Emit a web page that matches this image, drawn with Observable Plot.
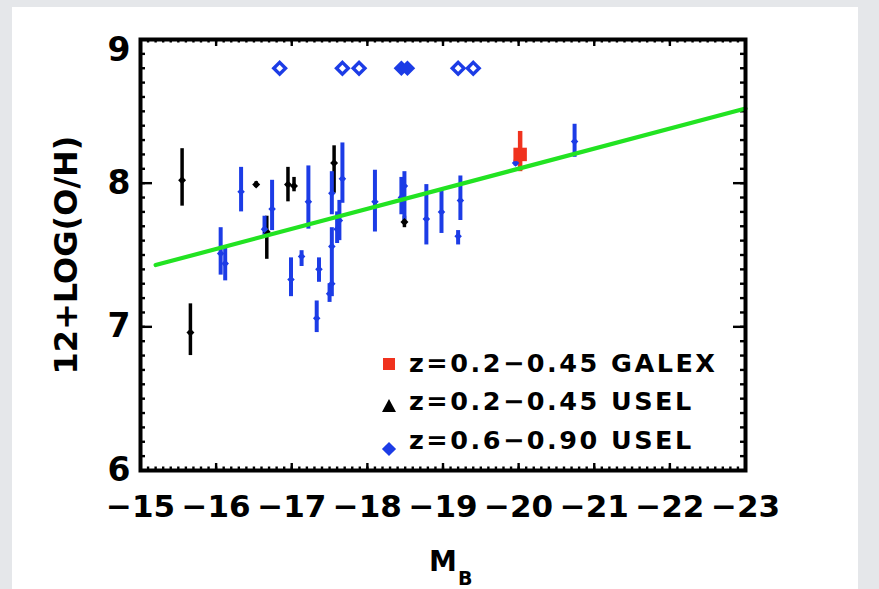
<!DOCTYPE html>
<html>
<head>
<meta charset="utf-8">
<script src="https://cdn.jsdelivr.net/npm/d3@7"></script>
<script src="https://cdn.jsdelivr.net/npm/@observablehq/plot@0.6"></script>
<style>
  html, body { margin: 0; padding: 0; background: #e5e7ea; }
  #wrap { position: relative; width: 879px; height: 589px; overflow: hidden; font-family: "DejaVu Sans", sans-serif; }
  #panel { position: absolute; left: 12px; top: 7px; width: 846px; height: 582px; background: #ffffff; }
  #chart { position: absolute; left: 0; top: 0; }
  .t { position: absolute; white-space: nowrap; font-weight: bold; color: #000; }
  #ytitle { left: 66px; top: 254.5px; font-size: 32px; line-height: 32px; transform: translate(-50%, -50%) rotate(-90deg); }
  #xM { left: 429px; top: 548px; font-size: 28px; line-height: 28px; }
  #xB { left: 458px; top: 569px; font-size: 19px; line-height: 19px; }
  .leg { left: 409px; font-size: 25.5px; line-height: 25px; letter-spacing: 2.5px; }
  .sym { position: absolute; }
</style>
</head>
<body>
<div id="wrap">
  <div id="panel"></div>
  <div id="chart"></div>
  <div class="t" id="ytitle">12+LOG(O/H)</div>
  <div class="t" id="xM">M</div>
  <div class="t" id="xB">B</div>
  <div id="legend"></div>
</div>
<script>
// ---- axis ticks / labels ----
const xTickValues = [-15, -16, -17, -18, -19, -20, -21, -22, -23];
const yTickValues = [6, 7, 8, 9];
const yTitle = "12+LOG(O/H)";
const xTitle = "M";
const xTitleSub = "B";

// ---- z=0.2-0.45 USEL (black) ----
const blackMB = [-15.55, -15.66, -16.53, -16.67, -16.95, -17.03, -17.56, -18.49];
const blackOH = [8.02, 6.96, 7.99, 7.66, 7.99, 7.98, 8.14, 7.73];
const blackLo = [7.84, 6.80, 7.97, 7.47, 7.87, 7.94, 7.93, 7.69];
const blackHi = [8.24, 7.16, 8.01, 7.77, 8.11, 8.04, 8.26, 7.77];

// ---- z=0.6-0.90 USEL (blue) ----
const blueMB = [-16.06, -16.12, -16.33, -16.64, -16.74, -16.99, -17.13, -17.22, -17.33, -17.36,
                -17.50, -17.53, -17.53, -17.53, -17.60, -17.63, -17.67, -18.10, -18.45, -18.49,
                -18.78, -18.98, -19.20, -19.23, -19.96, -20.74];
const blueOH = [7.51, 7.44, 7.94, 7.68, 7.82, 7.33, 7.49, 7.87, 7.06, 7.40,
                7.23, 7.30, 7.56, 7.93, 7.68, 7.74, 8.03, 7.87, 7.90, 7.98,
                7.75, 7.80, 7.63, 7.88, 8.14, 8.29];
const blueLo = [7.36, 7.32, 7.80, 7.63, 7.67, 7.21, 7.42, 7.68, 6.96, 7.31,
                7.17, 7.21, 7.42, 7.78, 7.58, 7.60, 7.86, 7.66, 7.78, 7.74,
                7.57, 7.65, 7.57, 7.74, 8.12, 8.18];
const blueHi = [7.69, 7.55, 8.11, 7.77, 8.02, 7.48, 7.53, 8.12, 7.18, 7.48,
                7.30, 7.42, 7.69, 8.08, 7.80, 7.88, 8.28, 8.09, 8.04, 8.08,
                7.99, 7.95, 7.67, 8.05, 8.16, 8.41];

// ---- blue points plotted at the top (open and overlapping) ----
const topOpenMB = [-16.84, -17.67, -17.89, -19.20, -19.40];
const topFilledMB = [-18.45, -18.53];
const topOH = 8.80;

// ---- z=0.2-0.45 GALEX (red) ----
const redMB = [-20.02];
const redOH = [8.20];
const redLo = [8.08];
const redHi = [8.36];

// ---- fitted relation (endpoints) ----
const fitMB = [-15.2, -23.0];
const fitOH = [7.43, 8.52];

// ---- legend ----
const legendLabels = ["z=0.2\u22120.45 GALEX", "z=0.2\u22120.45 USEL", "z=0.6\u22120.90 USEL"];
const legendColors = ["#f0321e", "#000000", "#1c3ce6"];

const BLUE = "#1c3ce6", RED = "#f0321e", GREEN = "#22e322";

const toRows = (m, v, lo, hi) => m.map((d, i) => ({m: d, v: v[i], lo: lo[i], hi: hi[i]}));
const black = toRows(blackMB, blackOH, blackLo, blackHi);
const blue = toRows(blueMB, blueOH, blueLo, blueHi);
const red = toRows(redMB, redOH, redLo, redHi);
const fit = fitMB.map((d, i) => ({m: d, v: fitOH[i]}));

// tick geometry (pixels -> data units)
const W = 879, H = 589, ML = 140, MR = 134, MT = 39, MB = 119;
const pxX = (W - ML - MR) / 8;   // px per magnitude
const pxY = (H - MT - MB) / 3;   // px per dex
const xMinor = d3.range(0, 81).map(i => -15 - i / 10);
const yMinor = d3.range(0, 31).map(i => 6 + i / 10);
const lxMaj = 7 / pxY, lxMin = 3.5 / pxY;   // ticks on x (top/bottom), in y units
const lyMaj = 12 / pxX, lyMin = 5 / pxX;    // ticks on y (left/right), in x units
const tk = {stroke: "#000", strokeWidth: 2.4};
const yLabStyle = {tickSize: 0, tickPadding: 10, fontSize: 33, fontWeight: "bold", tickFormat: d => String(d), label: null};

const plot = Plot.plot({
  width: W, height: H,
  marginLeft: ML, marginRight: MR, marginTop: MT, marginBottom: MB,
  x: {domain: [-15, -23]},
  y: {domain: [6, 9]},
  style: {background: "transparent", fontFamily: "DejaVu Sans, sans-serif", color: "#000"},
  marks: [
    // inward ticks on all four sides
    Plot.ruleX(xMinor, {x: d => d, y1: 6, y2: 6 + lxMin, ...tk}),
    Plot.ruleX(xMinor, {x: d => d, y1: 9, y2: 9 - lxMin, ...tk}),
    Plot.ruleX(xTickValues, {x: d => d, y1: 6, y2: 6 + lxMaj, ...tk}),
    Plot.ruleX(xTickValues, {x: d => d, y1: 9, y2: 9 - lxMaj, ...tk}),
    Plot.ruleY(yMinor, {y: d => d, x1: -15, x2: -15 - lyMin, ...tk}),
    Plot.ruleY(yMinor, {y: d => d, x1: -23, x2: -23 + lyMin, ...tk}),
    Plot.ruleY(yTickValues, {y: d => d, x1: -15, x2: -15 - lyMaj, ...tk}),
    Plot.ruleY(yTickValues, {y: d => d, x1: -23, x2: -23 + lyMaj, ...tk}),
    Plot.axisX(xTickValues, {tickSize: 0, tickPadding: 24, fontSize: 31, fontWeight: "bold",
      tickFormat: d => (d < 0 ? "\u2212" : "") + Math.abs(d), label: null}),
    Plot.axisY(yTickValues.filter(d => d < 9), {...yLabStyle}),
    Plot.axisY(yTickValues.filter(d => d === 9), {...yLabStyle, dy: 11}),
    // error bars
    Plot.ruleX(black, {x: "m", y1: "lo", y2: "hi", stroke: "#000", strokeWidth: 3.5}),
    Plot.ruleX(blue, {x: "m", y1: "lo", y2: "hi", stroke: BLUE, strokeWidth: 4}),
    Plot.ruleX(red, {x: "m", y1: "lo", y2: "hi", stroke: RED, strokeWidth: 4.5}),
    // markers
    Plot.dot(black, {x: "m", y: "v", symbol: "diamond2", r: 3.6, fill: "#000"}),
    Plot.dot(blue, {x: "m", y: "v", symbol: "diamond2", r: 3.4, fill: BLUE}),
    Plot.dot(red, {x: "m", y: "v", symbol: "square", r: 7.6, fill: RED}),
    Plot.dot(topOpenMB, {x: d => d, y: topOH, symbol: "diamond2", r: 5.3, fill: "#fff", stroke: BLUE, strokeWidth: 3.4}),
    Plot.dot(topFilledMB, {x: d => d, y: topOH, symbol: "diamond2", r: 7, fill: BLUE}),
    // fit line
    Plot.line(fit, {x: "m", y: "v", stroke: GREEN, strokeWidth: 4.2}),
    Plot.frame({stroke: "#000", strokeWidth: 4})
  ]
});
document.getElementById("chart").appendChild(plot);

// legend (HTML overlay inside the plot frame)
const legendBaseTop = [350.5, 389, 427.5];
const symCenters = [364, 406, 449];
const leg = document.getElementById("legend");
legendLabels.forEach((lab, i) => {
  const t = document.createElement("div");
  t.className = "t leg";
  t.style.top = legendBaseTop[i] + "px";
  t.textContent = lab;
  leg.appendChild(t);
  const s = document.createElement("div");
  s.className = "sym";
  if (i === 0) {
    Object.assign(s.style, {left: "383px", top: (symCenters[i] - 6) + "px", width: "12px", height: "12px", background: legendColors[i]});
  } else if (i === 1) {
    Object.assign(s.style, {left: "382px", top: (symCenters[i] - 7) + "px", width: 0, height: 0,
      borderLeft: "7px solid transparent", borderRight: "7px solid transparent", borderBottom: "13px solid " + legendColors[i]});
  } else {
    Object.assign(s.style, {left: "384px", top: (symCenters[i] - 5) + "px", width: "10px", height: "10px",
      background: legendColors[i], transform: "rotate(45deg)"});
  }
  leg.appendChild(s);
});
</script>
</body>
</html>
